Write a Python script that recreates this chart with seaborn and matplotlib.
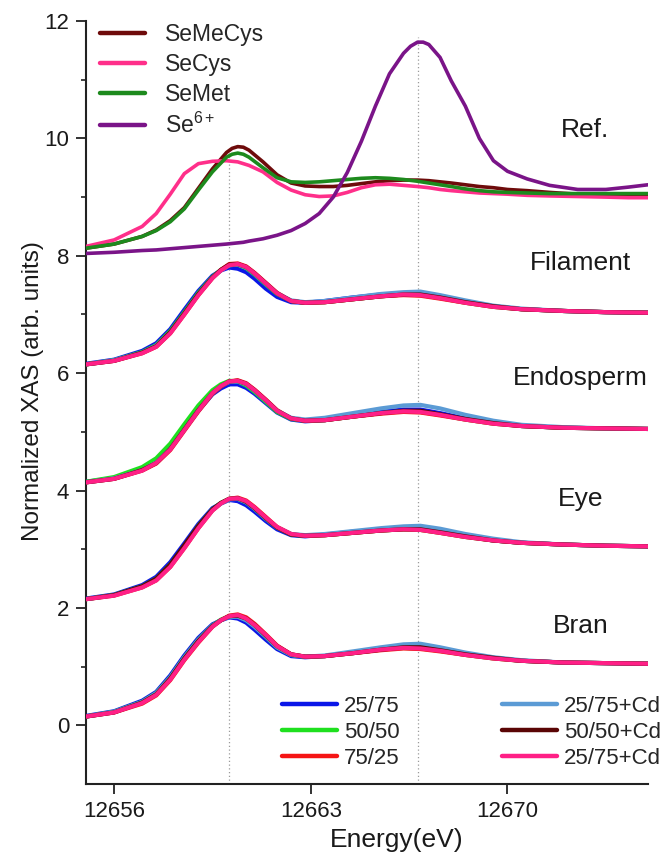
import numpy as np
import pandas as pd
import matplotlib
matplotlib.use("Agg")
import matplotlib.pyplot as plt
import seaborn as sns
from matplotlib.lines import Line2D

# ---------------- data ----------------
E_ref = [12655, 12656, 12657, 12657.5, 12658, 12658.5, 12659, 12659.5, 12660, 12660.2, 12660.4,
         12660.6, 12660.8, 12661.3, 12661.8, 12662.3, 12662.8, 12663.3, 12663.8, 12664.3, 12664.8,
         12665.3, 12665.8, 12666.3, 12666.55, 12666.8, 12667.0, 12667.2, 12667.6, 12668, 12668.5,
         12669, 12669.5, 12670, 12670.7, 12671.5, 12672.5, 12673.5, 12674.3, 12675]

SeMeCys = [8.13, 8.20, 8.33, 8.44, 8.60, 8.82, 9.15, 9.48, 9.76, 9.83, 9.86, 9.85, 9.80, 9.60,
           9.38, 9.24, 9.19, 9.18, 9.18, 9.20, 9.23, 9.26, 9.28, 9.29, 9.29, 9.29, 9.285, 9.28,
           9.26, 9.24, 9.21, 9.18, 9.16, 9.13, 9.11, 9.08, 9.05, 9.04, 9.03, 9.03]
SeCys = [8.16, 8.27, 8.50, 8.72, 9.05, 9.40, 9.57, 9.61, 9.62, 9.61, 9.60, 9.57, 9.54, 9.43,
         9.25, 9.12, 9.04, 9.01, 9.02, 9.08, 9.16, 9.21, 9.22, 9.20, 9.19, 9.18, 9.17, 9.16,
         9.13, 9.11, 9.09, 9.07, 9.06, 9.05, 9.03, 9.02, 9.01, 9.00, 8.99, 8.99]
SeMet = [8.13, 8.20, 8.33, 8.43, 8.58, 8.80, 9.12, 9.43, 9.68, 9.73, 9.75, 9.73, 9.68, 9.50,
         9.33, 9.26, 9.25, 9.26, 9.28, 9.30, 9.32, 9.33, 9.32, 9.30, 9.285, 9.27, 9.255, 9.24,
         9.21, 9.18, 9.14, 9.11, 9.09, 9.08, 9.07, 9.06, 9.06, 9.06, 9.06, 9.06]
Se6 = [8.04, 8.06, 8.09, 8.10, 8.12, 8.14, 8.16, 8.18, 8.20, 8.21, 8.22, 8.23, 8.25, 8.29,
       8.35, 8.43, 8.55, 8.72, 9.00, 9.42, 9.95, 10.55, 11.10, 11.45, 11.57, 11.64, 11.64, 11.60,
       11.38, 10.98, 10.55, 10.00, 9.62, 9.44, 9.31, 9.20, 9.13, 9.13, 9.17, 9.21]

ref_labels = ["SeMeCys", "SeCys", "SeMet", "Se$^{6+}$"]
ref_colors = ["#6e0b0b", "#ff2f8a", "#1d8a1d", "#7a1488"]

E = [12655, 12656, 12657, 12657.5, 12658, 12658.5, 12659, 12659.5, 12659.8, 12660.1, 12660.4,
     12660.7, 12661.0, 12661.4, 12661.8, 12662.3, 12662.8, 12663.5, 12664.5, 12665.5, 12666.3,
     12666.9, 12667.6, 12668.5, 12669.5, 12670.5, 12672, 12673.5, 12675]

sample_labels = ["25/75", "50/50", "75/25", "25/75+Cd", "50/50+Cd", "25/75+Cd"]
sample_colors = ["#0a16e8", "#1fe01f", "#f51515", "#5b9bd5", "#5a0505", "#ff1f86"]

filament = [
    [6.16, 6.23, 6.38, 6.51, 6.75, 7.08, 7.40, 7.66, 7.75, 7.80, 7.78, 7.72, 7.61, 7.44, 7.30, 7.21, 7.20, 7.23, 7.29, 7.34, 7.36, 7.35, 7.29, 7.21, 7.14, 7.09, 7.06, 7.04, 7.03],
    [6.15, 6.22, 6.36, 6.48, 6.72, 7.04, 7.37, 7.64, 7.76, 7.84, 7.85, 7.79, 7.68, 7.51, 7.35, 7.23, 7.20, 7.21, 7.26, 7.31, 7.34, 7.33, 7.28, 7.20, 7.13, 7.09, 7.06, 7.04, 7.03],
    [6.15, 6.21, 6.34, 6.45, 6.68, 7.00, 7.33, 7.62, 7.76, 7.86, 7.87, 7.82, 7.71, 7.54, 7.37, 7.23, 7.20, 7.21, 7.26, 7.31, 7.33, 7.32, 7.27, 7.20, 7.13, 7.09, 7.06, 7.04, 7.03],
    [6.15, 6.22, 6.35, 6.47, 6.70, 7.02, 7.35, 7.63, 7.75, 7.84, 7.85, 7.80, 7.69, 7.52, 7.36, 7.24, 7.21, 7.23, 7.29, 7.35, 7.38, 7.39, 7.33, 7.24, 7.15, 7.10, 7.06, 7.04, 7.03],
    [6.15, 6.21, 6.35, 6.46, 6.70, 7.02, 7.35, 7.63, 7.76, 7.85, 7.86, 7.81, 7.70, 7.53, 7.36, 7.23, 7.20, 7.21, 7.26, 7.31, 7.34, 7.34, 7.29, 7.21, 7.14, 7.09, 7.06, 7.04, 7.03],
    [6.15, 6.21, 6.34, 6.45, 6.68, 7.00, 7.33, 7.62, 7.75, 7.84, 7.86, 7.81, 7.70, 7.53, 7.36, 7.23, 7.20, 7.21, 7.26, 7.31, 7.34, 7.33, 7.28, 7.20, 7.13, 7.09, 7.06, 7.04, 7.03],
]
endosperm = [
    [4.15, 4.21, 4.36, 4.49, 4.72, 5.04, 5.36, 5.64, 5.74, 5.81, 5.81, 5.75, 5.65, 5.49, 5.33, 5.21, 5.18, 5.20, 5.27, 5.34, 5.38, 5.38, 5.32, 5.23, 5.15, 5.10, 5.07, 5.06, 5.05],
    [4.15, 4.23, 4.40, 4.55, 4.80, 5.13, 5.45, 5.71, 5.81, 5.87, 5.86, 5.79, 5.68, 5.51, 5.34, 5.22, 5.19, 5.20, 5.26, 5.32, 5.35, 5.34, 5.29, 5.21, 5.14, 5.10, 5.07, 5.06, 5.05],
    [4.14, 4.20, 4.34, 4.46, 4.69, 5.02, 5.35, 5.65, 5.77, 5.86, 5.88, 5.83, 5.72, 5.55, 5.37, 5.23, 5.19, 5.20, 5.26, 5.31, 5.34, 5.33, 5.28, 5.21, 5.14, 5.10, 5.07, 5.06, 5.05],
    [4.14, 4.21, 4.35, 4.48, 4.71, 5.04, 5.37, 5.66, 5.78, 5.85, 5.86, 5.81, 5.70, 5.53, 5.36, 5.24, 5.21, 5.24, 5.32, 5.40, 5.45, 5.46, 5.40, 5.29, 5.19, 5.12, 5.08, 5.06, 5.05],
    [4.14, 4.20, 4.35, 4.47, 4.71, 5.04, 5.37, 5.66, 5.78, 5.86, 5.87, 5.82, 5.71, 5.54, 5.36, 5.23, 5.19, 5.20, 5.26, 5.32, 5.36, 5.36, 5.30, 5.22, 5.15, 5.10, 5.07, 5.06, 5.05],
    [4.14, 4.20, 4.34, 4.47, 4.70, 5.03, 5.36, 5.66, 5.78, 5.86, 5.87, 5.82, 5.71, 5.54, 5.36, 5.23, 5.19, 5.20, 5.26, 5.32, 5.35, 5.34, 5.29, 5.21, 5.14, 5.10, 5.07, 5.06, 5.05],
]
eye = [
    [2.16, 2.23, 2.39, 2.53, 2.78, 3.10, 3.43, 3.70, 3.78, 3.84, 3.82, 3.75, 3.64, 3.48, 3.34, 3.24, 3.22, 3.25, 3.30, 3.34, 3.35, 3.34, 3.29, 3.22, 3.15, 3.11, 3.08, 3.06, 3.05],
    [2.15, 2.22, 2.37, 2.50, 2.74, 3.06, 3.40, 3.68, 3.79, 3.86, 3.86, 3.80, 3.69, 3.52, 3.37, 3.25, 3.23, 3.24, 3.28, 3.32, 3.34, 3.33, 3.28, 3.21, 3.15, 3.11, 3.08, 3.06, 3.05],
    [2.15, 2.21, 2.35, 2.47, 2.70, 3.02, 3.36, 3.66, 3.78, 3.86, 3.88, 3.83, 3.72, 3.55, 3.38, 3.26, 3.23, 3.24, 3.28, 3.32, 3.34, 3.33, 3.28, 3.21, 3.15, 3.11, 3.08, 3.06, 3.05],
    [2.15, 2.22, 2.36, 2.49, 2.72, 3.04, 3.38, 3.67, 3.78, 3.85, 3.86, 3.80, 3.69, 3.52, 3.37, 3.26, 3.24, 3.26, 3.31, 3.36, 3.39, 3.40, 3.35, 3.26, 3.18, 3.12, 3.08, 3.06, 3.05],
    [2.15, 2.22, 2.37, 2.50, 2.74, 3.07, 3.40, 3.68, 3.79, 3.86, 3.87, 3.81, 3.70, 3.53, 3.37, 3.25, 3.23, 3.24, 3.28, 3.32, 3.34, 3.34, 3.29, 3.22, 3.15, 3.11, 3.08, 3.06, 3.05],
    [2.15, 2.21, 2.35, 2.47, 2.70, 3.02, 3.36, 3.66, 3.78, 3.86, 3.87, 3.82, 3.71, 3.54, 3.38, 3.26, 3.23, 3.24, 3.28, 3.32, 3.34, 3.33, 3.28, 3.21, 3.15, 3.11, 3.08, 3.06, 3.05],
]
bran = [
    [0.16, 0.24, 0.42, 0.57, 0.85, 1.19, 1.49, 1.72, 1.79, 1.84, 1.82, 1.75, 1.63, 1.46, 1.30, 1.18, 1.16, 1.18, 1.24, 1.30, 1.33, 1.33, 1.28, 1.21, 1.15, 1.10, 1.07, 1.06, 1.05],
    [0.15, 0.23, 0.40, 0.55, 0.82, 1.16, 1.46, 1.70, 1.80, 1.86, 1.86, 1.80, 1.69, 1.51, 1.33, 1.20, 1.17, 1.18, 1.23, 1.29, 1.32, 1.31, 1.27, 1.20, 1.14, 1.10, 1.07, 1.06, 1.05],
    [0.15, 0.22, 0.37, 0.51, 0.77, 1.11, 1.41, 1.68, 1.79, 1.87, 1.89, 1.84, 1.73, 1.55, 1.36, 1.21, 1.17, 1.18, 1.23, 1.28, 1.31, 1.30, 1.26, 1.20, 1.14, 1.10, 1.07, 1.06, 1.05],
    [0.15, 0.23, 0.40, 0.55, 0.82, 1.16, 1.46, 1.70, 1.79, 1.85, 1.85, 1.79, 1.68, 1.51, 1.33, 1.20, 1.17, 1.19, 1.26, 1.33, 1.38, 1.39, 1.33, 1.24, 1.16, 1.11, 1.07, 1.06, 1.05],
    [0.15, 0.22, 0.39, 0.53, 0.80, 1.14, 1.44, 1.69, 1.79, 1.86, 1.87, 1.82, 1.71, 1.53, 1.35, 1.21, 1.17, 1.18, 1.23, 1.29, 1.33, 1.33, 1.28, 1.21, 1.15, 1.10, 1.07, 1.06, 1.05],
    [0.15, 0.22, 0.38, 0.52, 0.78, 1.12, 1.42, 1.68, 1.79, 1.86, 1.88, 1.82, 1.71, 1.54, 1.35, 1.21, 1.17, 1.18, 1.23, 1.29, 1.32, 1.31, 1.27, 1.20, 1.14, 1.10, 1.07, 1.06, 1.05],
]

group_names = ["Filament", "Endosperm", "Eye", "Bran"]
group_label_y = [7.87, 5.92, 3.86, 1.70]
ref_label = "Ref."
ref_label_y = 10.14

guide_x = [12660.1, 12666.83]
guide_top = [9.75, 11.72]

x_ticks = [12656, 12663, 12670]
y_ticks = [0, 2, 4, 6, 8, 10, 12]

# ---------------- style ----------------
sns.set_style("ticks")
plt.rcParams["font.family"] = ["Liberation Sans", "DejaVu Sans"]
plt.rcParams["mathtext.fontset"] = "custom"
plt.rcParams["mathtext.rm"] = "Liberation Sans"
plt.rcParams["mathtext.it"] = "Liberation Sans:italic"

fig = plt.figure(figsize=(6.65, 8.58), dpi=100)
ax = fig.add_axes([0.1293, 0.0862, 0.8451, 0.8893])

ax.vlines(guide_x, -1, guide_top, colors="#9a9a9a", linestyles=(0, (1, 2)), linewidth=0.9, zorder=1)

ref_df = pd.DataFrame({"E": E_ref, "SeMeCys": SeMeCys, "SeCys": SeCys, "SeMet": SeMet, "Se6": Se6})
ref_handles = []
for col, lab, c in zip(["SeMeCys", "SeCys", "SeMet", "Se6"], ref_labels, ref_colors):
    sns.lineplot(data=ref_df, x="E", y=col, color=c, linewidth=2.6, ax=ax,
                 estimator=None, sort=False, legend=False, zorder=3)
    ref_handles.append(Line2D([], [], color=c, linewidth=3.2, label=lab))

for gi, group in enumerate([filament, endosperm, eye, bran]):
    for series, c in zip(group, sample_colors):
        sns.lineplot(x=E, y=series, color=c, linewidth=3.0, ax=ax,
                     estimator=None, sort=False, legend=False, zorder=3)

sample_handles = [Line2D([], [], color=c, linewidth=3.2, label=l)
                  for c, l in zip(sample_colors, sample_labels)]

# group labels
for name, yy in zip(group_names, group_label_y):
    ax.text(12672.6, yy, name, ha="center", va="center", fontsize=19, color="#1a1a1a")
ax.text(12672.75, ref_label_y, ref_label, ha="center", va="center", fontsize=19, color="#1a1a1a")

ax.set_xlim(12655, 12675)
ax.set_ylim(-1, 12)
ax.set_xticks(x_ticks)
ax.set_xticklabels([str(t) for t in x_ticks])
ax.set_yticks(y_ticks)
ax.set_yticks([1, 3, 5, 7, 9, 11], minor=True)
ax.tick_params(axis="both", which="major", labelsize=16, length=7, width=1.3,
               color="#222222", labelcolor="#1a1a1a", pad=5)
ax.tick_params(axis="y", which="minor", length=3.5, width=1.2, color="#222222")
for s in ["top", "right"]:
    ax.spines[s].set_visible(False)
for s in ["left", "bottom"]:
    ax.spines[s].set_linewidth(1.5)
    ax.spines[s].set_color("#222222")

ax.set_xlabel("Energy(eV)", fontsize=19, color="#1a1a1a")
ax.xaxis.set_label_coords(0.5525, -0.057)
ax.set_ylabel("Normalized XAS (arb. units)", fontsize=17.5, color="#1a1a1a")
ax.yaxis.set_label_coords(-0.075, 0.515)

leg1 = ax.legend(handles=ref_handles, loc="upper left", bbox_to_anchor=(0.025, 0.997),
                 frameon=False, fontsize=16.5, handlelength=1.95, handletextpad=0.9,
                 labelspacing=0.3, borderpad=0, borderaxespad=0)
ax.add_artist(leg1)
ax.legend(handles=sample_handles, loc="lower left", bbox_to_anchor=(0.348, 0.02), ncol=2,
          frameon=False, fontsize=16, handlelength=2.5, handletextpad=0.3,
          labelspacing=0.23, columnspacing=4.6, borderpad=0, borderaxespad=0)

fig.savefig("out.png", dpi=100)
